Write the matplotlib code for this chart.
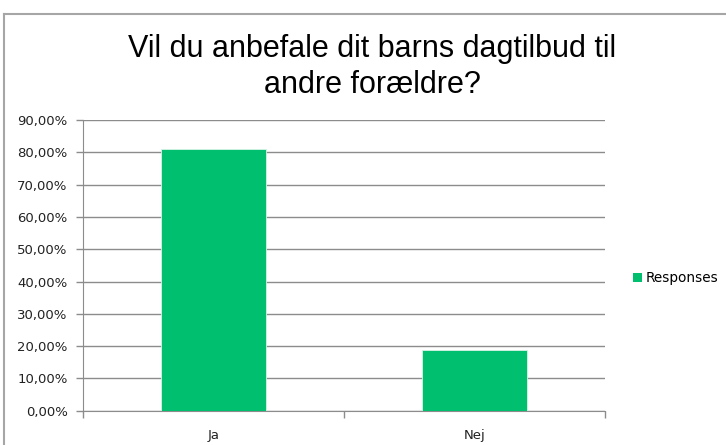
import matplotlib
matplotlib.use("Agg")
import matplotlib.pyplot as plt
from matplotlib.lines import Line2D
from matplotlib.patches import Patch

# data
kategorier = ["Ja", "Nej"]
svar = [81.1, 18.9]
y_ticks = [0, 10, 20, 30, 40, 50, 60, 70, 80, 90]
serie_navn = "Responses"

groen = "#00bf6f"
graa = "#8c8c8c"

fig = plt.figure(figsize=(7.26, 4.45), dpi=100)
ax = fig.add_axes([83 / 726, 1 - 410.7 / 445, (605 - 83) / 726, (410.7 - 120) / 445])

x = list(range(len(kategorier)))
ax.bar(x, svar, width=0.4, color=groen, edgecolor="#d8f3e6", linewidth=0.6, zorder=3)

ax.set_ylim(0, 90)
ax.set_xlim(-0.5, len(kategorier) - 0.5)
ax.set_yticks(y_ticks)
ax.set_yticklabels([f"{v:.2f}%".replace(".", ",") for v in y_ticks])
ax.yaxis.grid(True, color=graa, linewidth=1.0, zorder=0)

# ticks between categories, labels under bars
ax.set_xticks([i - 0.5 for i in range(len(kategorier) + 1)])
ax.set_xticklabels([])
ax.set_xticks(x, minor=True)
ax.set_xticklabels(kategorier, minor=True)
ax.tick_params(axis="x", which="major", length=5, color=graa, width=1)
ax.tick_params(axis="x", which="minor", length=0, pad=13)
ax.tick_params(axis="y", length=5, color=graa, width=1, pad=6)

for lab in ax.get_yticklabels() + ax.get_xticklabels(minor=True):
    lab.set_fontsize(9.5)
    lab.set_fontfamily("DejaVu Sans")
    lab.set_color("#222222")

for s in ["top", "right"]:
    ax.spines[s].set_visible(False)
ax.spines["left"].set_color(graa)
ax.spines["bottom"].set_color(graa)

fig.text(372 / 726, 1 - 67 / 445, "Vil du anbefale dit barns dagtilbud til\nandre forældre?",
         ha="center", va="center", fontsize=22, family="Liberation Sans",
         linespacing=1.28, color="#000000")

fig.legend(handles=[Patch(facecolor=groen, edgecolor="none", label=serie_navn)],
           loc="center left", bbox_to_anchor=(622 / 726, 1 - 278 / 445), frameon=False,
           handlelength=0.65, handleheight=0.65, handletextpad=0.25, borderpad=0.3,
           prop={"family": "DejaVu Sans", "size": 9.8})

# outer chart frame (top and left visible)
fig.add_artist(Line2D([4 / 726, 1], [1 - 14 / 445, 1 - 14 / 445], color="#a6a6a6", lw=1.5))
fig.add_artist(Line2D([4 / 726, 4 / 726], [0, 1 - 14 / 445], color="#a6a6a6", lw=1.5))

fig.savefig("out.png", dpi=100)
